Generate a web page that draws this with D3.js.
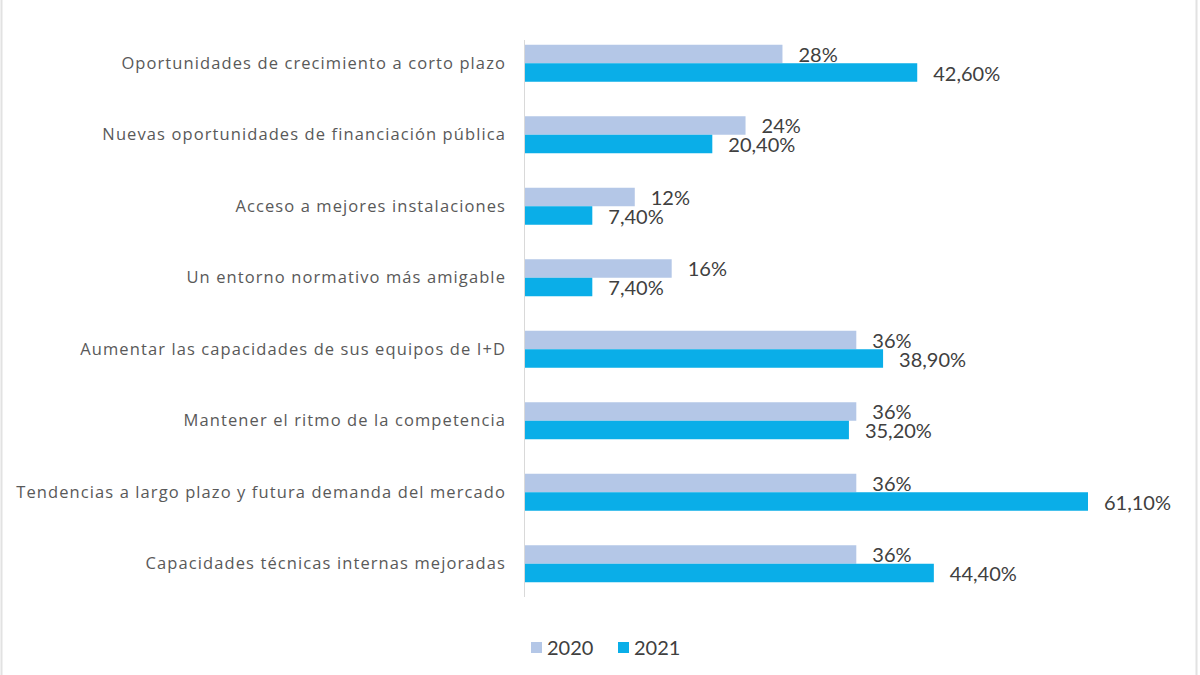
<!DOCTYPE html>
<html><head><meta charset="utf-8">
<script src="https://cdn.jsdelivr.net/npm/d3@7"></script>
<style>body{margin:0;background:#fff}svg{display:block}</style>
</head><body>
<script>
const categories = [
  "Oportunidades de crecimiento a corto plazo",
  "Nuevas oportunidades de financiación pública",
  "Acceso a mejores instalaciones",
  "Un entorno normativo más amigable",
  "Aumentar las capacidades de sus equipos de I+D",
  "Mantener el ritmo de la competencia",
  "Tendencias a largo plazo y futura demanda del mercado",
  "Capacidades técnicas internas mejoradas"
];
const values2020 = [28, 24, 12, 16, 36, 36, 36, 36];
const values2021 = [42.6, 20.4, 7.4, 7.4, 38.9, 35.2, 61.1, 44.4];
const seriesNames = ["2020", "2021"];
const colors = ["#b4c7e7", "#0aaee8"];

const W = 1200, H = 675;
const svg = d3.select("body").append("svg").attr("width", W).attr("height", H);

// faint frame edges
svg.append("line").attr("x1",1.5).attr("x2",1.5).attr("y1",0).attr("y2",H).attr("stroke","#e2e2e2").attr("stroke-width",2);
svg.append("line").attr("x1",1196.5).attr("x2",1196.5).attr("y1",0).attr("y2",H).attr("stroke","#e2e2e2").attr("stroke-width",2);

const x = d3.scaleLinear().domain([0, 61.1]).range([524, 1088]);
const y = d3.scaleBand().domain(categories).range([27.5, 599.5]);
const inner = d3.scaleBand().domain(seriesNames).range([0, 37]).paddingInner(0);
const barOffset = (y.bandwidth() - 37) / 2;

const data = categories.map((c, i) => ({c, vals: [values2020[i], values2021[i]]}));

const g = svg.append("g");
data.forEach(d => {
  d.vals.forEach((v, s) => {
    const yy = y(d.c) + barOffset + inner(seriesNames[s]);
    g.append("rect")
      .attr("x", x(0)).attr("y", yy)
      .attr("width", x(v) - x(0)).attr("height", inner.bandwidth())
      .attr("fill", colors[s]);
    const label = s === 0 ? d3.format("d")(v) + "%" : d3.format(".2f")(v).replace(".", ",") + "%";
    g.append("text")
      .attr("x", x(v) + 16).attr("y", yy + inner.bandwidth()/2 + (s === 0 ? 0.5 : 1))
      .attr("dy", "0.35em")
      .attr("font-family", "Lato, 'Open Sans', sans-serif")
      .attr("font-size", 20).attr("fill", "#404040")
      .text(label);
  });
});

// category axis
const axis = d3.axisLeft(y).tickSize(0).tickPadding(18);
const ag = svg.append("g").attr("transform", `translate(${x(0)},0)`).call(axis);
ag.select(".domain").remove();
ag.selectAll("text").attr("font-family", "'Open Sans', 'DejaVu Sans', sans-serif")
  .attr("font-size", 16.5).attr("letter-spacing", "1.1px").attr("fill", "#595959");
svg.append("line").attr("x1", x(0)+0.5).attr("x2", x(0)+0.5).attr("y1", 40).attr("y2", 597)
  .attr("stroke", "#d9d9d9").attr("stroke-width", 1);

// legend
const legend = svg.append("g");
const legX = [531, 618];
seriesNames.forEach((n, i) => {
  legend.append("rect").attr("x", legX[i]).attr("y", 642).attr("width", 11).attr("height", 11).attr("fill", colors[i]);
  legend.append("text").attr("x", legX[i] + 16).attr("y", 647.5).attr("dy", "0.35em")
    .attr("font-family", "Lato, 'Open Sans', sans-serif").attr("font-size", 20).attr("fill", "#404040").text(n);
});
</script>
</body></html>
